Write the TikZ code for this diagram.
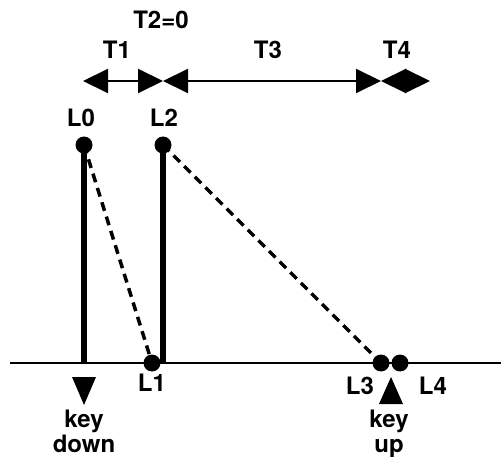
\documentclass[tikz,border=0pt]{standalone}
\usepackage{fontspec}
\setmainfont{TeX Gyre Heros}
\usetikzlibrary{arrows.meta}
\begin{document}
\begin{tikzpicture}[
    x=1pt, y=-1pt,
    dot/.style={circle, fill=black, inner sep=0pt, minimum size=17pt},
    lbl/.style={font=\fontsize{24}{26}\selectfont\bfseries, inner sep=0pt},
    stem/.style={line width=6pt},
    dashline/.style={line width=3.5pt, dash pattern=on 9pt off 6pt},
    span/.style={line width=2pt, {Triangle[length=25pt,width=24pt]}-{Triangle[length=25pt,width=24pt]}}
]
    \useasboundingbox (0,0) rectangle (501,457);

    % Time marks
    \coordinate (a0) at (83,81);
    \coordinate (a1) at (163,81);
    \coordinate (a2) at (381,81);
    \coordinate (a3) at (430,81);
    \draw[span] (a0) -- (a1);
    \draw[span] (a1) -- (a2);
    \draw[span] (a2) -- (a3);

    % Time labels
    \node[lbl] (t2) at (161,20) {T2=0};
    \node[lbl] (t1) at (117,50) {T1};
    \node[lbl] (t3) at (268,50) {T3};
    \node[lbl] (t4) at (397,50) {T4};

    % Baseline
    \coordinate (bl) at (10,363);
    \coordinate (br) at (501,363);
    \draw[line width=2.5pt] (bl) -- (br);

    % Levels
    \coordinate (f0) at (84,363);
    \coordinate (f2) at (163,363);
    \draw[stem] (84,145) -- (f0);
    \draw[stem] (163,145) -- (f2);
    \node[dot] (L0) at (84,145) {};
    \node[dot] (L2) at (163,145) {};
    \node[dot] (L1) at (152,363) {};
    \node[dot] (L3) at (381,363) {};
    \node[dot] (L4) at (400,363) {};
    \draw[dashline] (L0.center) -- (L1.center);
    \draw[dashline] (L2.center) -- (L3.center);

    % Level labels
    \node[lbl] (l0) at (81,118) {L0};
    \node[lbl] (l2) at (164,118) {L2};
    \node[lbl] (l1) at (152,383) {L1};
    \node[lbl] (l3) at (360,386) {L3};
    \node[lbl] (l4) at (433,386) {L4};

    % Key events
    \fill (72,377) -- (96,377) -- (84,405) -- cycle;
    \fill (379,404) -- (403,404) -- (391,377) -- cycle;
    \node[lbl, anchor=base] (kd1) at (84,427) {key};
    \node[lbl, anchor=base] (kd2) at (84,452) {down};
    \node[lbl, anchor=base] (ku1) at (389,427) {key};
    \node[lbl, anchor=base] (ku2) at (389,452) {up};
\end{tikzpicture}
\end{document}
